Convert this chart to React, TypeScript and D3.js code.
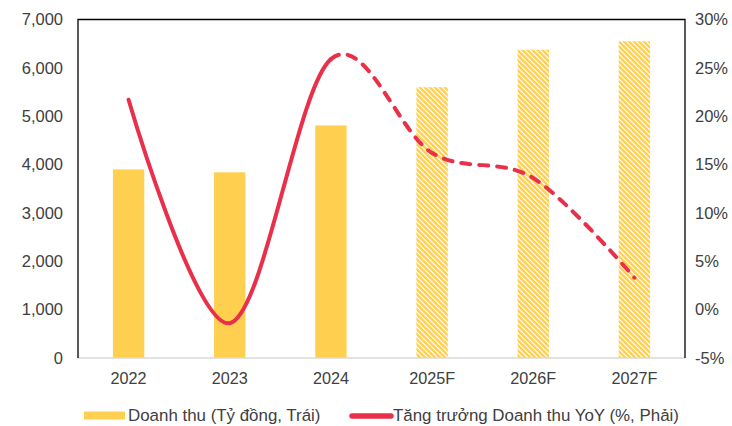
import React from "react";
import * as d3 from "d3";

const categories = ["2022", "2023", "2024", "2025F", "2026F", "2027F"];
const revenue = [3900, 3840, 4810, 5600, 6375, 6550];
const forecast = [false, false, false, true, true, true];
const growth = [21.7, -1.4, 25.9, 16.2, 13.6, 3.3];
const leftTicks = [0, 1000, 2000, 3000, 4000, 5000, 6000, 7000];
const rightTicks = [-5, 0, 5, 10, 15, 20, 25, 30];
const legendLabels = ["Doanh thu (Tỷ đồng, Trái)", "Tăng trưởng Doanh thu YoY (%, Phải)"];

const W = 732;
const H = 426;
const L = 78;
const R = 685;
const T = 19.5;
const B = 358;

const YELLOW = "#FFD04F";
const RED = "#E8304A";
const TEXT = "#404040";
const FONT = "'Liberation Sans', Arial, sans-serif";

function recordCurve(pts: [number, number][]): { start: [number, number]; segs: number[][] } {
  const segs: number[][] = [];
  let start: [number, number] = [0, 0];
  const ctx: any = {
    moveTo(x: number, y: number) {
      start = [x, y];
    },
    lineTo(x: number, y: number) {
      segs.push([x, y, x, y, x, y]);
    },
    bezierCurveTo(a: number, b: number, c: number, d: number, e: number, f: number) {
      segs.push([a, b, c, d, e, f]);
    },
    closePath() {},
  };
  d3.line().curve(d3.curveCardinal.tension(0)).context(ctx)(pts);
  return { start, segs };
}

export default function App() {
  const x = d3
    .scaleBand<string>()
    .domain(categories)
    .range([L, R])
    .paddingInner(0.69)
    .paddingOuter(0.345);
  const yL = d3.scaleLinear().domain([0, 7000]).range([B, T]);
  const yR = d3.scaleLinear().domain([-5, 30]).range([B, T]);
  const cx = (c: string) => (x(c) as number) + x.bandwidth() / 2;

  const pts: [number, number][] = categories.map((c, i) => [cx(c), yR(growth[i])]);
  const { start, segs } = recordCurve(pts);
  const buildPath = (from: number, to: number) => {
    const p = d3.path();
    const s = from === 0 ? start : [segs[from - 1][4], segs[from - 1][5]];
    p.moveTo(s[0], s[1]);
    for (let i = from; i < to; i++) {
      const g = segs[i];
      p.bezierCurveTo(g[0], g[1], g[2], g[3], g[4], g[5]);
    }
    return p.toString();
  };
  const solidPath = buildPath(0, 2);
  const dashedPath = buildPath(2, segs.length);

  const fmt = d3.format(",");

  return (
    <svg width={W} height={H} style={{ position: "absolute", left: 0, top: 0, background: "#fff" }}>
      <defs>
        <pattern id="hatch" width={5} height={5} patternUnits="userSpaceOnUse">
          <rect width={5} height={5} fill={YELLOW} />
          <path d="M-1,-1 L6,6 M-1,4 L1,6 M4,-1 L6,1" stroke="#fff" strokeWidth={1.2} />
        </pattern>
      </defs>
      <rect width={W} height={H} fill="#fff" />

      {categories.map((c, i) => (
        <rect
          key={c}
          x={x(c)}
          y={yL(revenue[i])}
          width={x.bandwidth()}
          height={B - yL(revenue[i])}
          fill={forecast[i] ? "url(#hatch)" : YELLOW}
        />
      ))}

      <line x1={L - 1} x2={R} y1={B} y2={B} stroke="#D9D9D9" strokeWidth={1.5} />
      <path d={`M${L},${B} V${T} H${R} V${B}`} fill="none" stroke="#000" strokeWidth={1.3} />

      <path d={solidPath} fill="none" stroke={RED} strokeWidth={4} strokeLinecap="round" />
      <path
        d={dashedPath}
        fill="none"
        stroke={RED}
        strokeWidth={4}
        strokeLinecap="round"
        strokeDasharray="9 9"
      />

      {leftTicks.map((t) => (
        <text
          key={t}
          x={63}
          y={yL(t)}
          dy="0.35em"
          textAnchor="end"
          fontFamily={FONT}
          fontSize={16.5}
          fill={TEXT}
        >
          {fmt(t)}
        </text>
      ))}
      {rightTicks.map((t) => (
        <text
          key={t}
          x={695}
          y={yR(t)}
          dy="0.35em"
          textAnchor="start"
          fontFamily={FONT}
          fontSize={16.5}
          fill={TEXT}
        >
          {t}%
        </text>
      ))}
      {categories.map((c) => (
        <text
          key={c}
          x={cx(c)}
          y={384}
          textAnchor="middle"
          fontFamily={FONT}
          fontSize={16.2}
          fill={TEXT}
        >
          {c}
        </text>
      ))}

      <rect x={84} y={411.5} width={41} height={8} fill={YELLOW} />
      <text x={128} y={421} fontFamily={FONT} fontSize={16.9} fill={TEXT}>
        {legendLabels[0]}
      </text>
      <line x1={352} x2={391} y1={416} y2={416} stroke={RED} strokeWidth={5.5} strokeLinecap="round" />
      <text x={393} y={421} fontFamily={FONT} fontSize={16.9} fill={TEXT}>
        {legendLabels[1]}
      </text>
    </svg>
  );
}
